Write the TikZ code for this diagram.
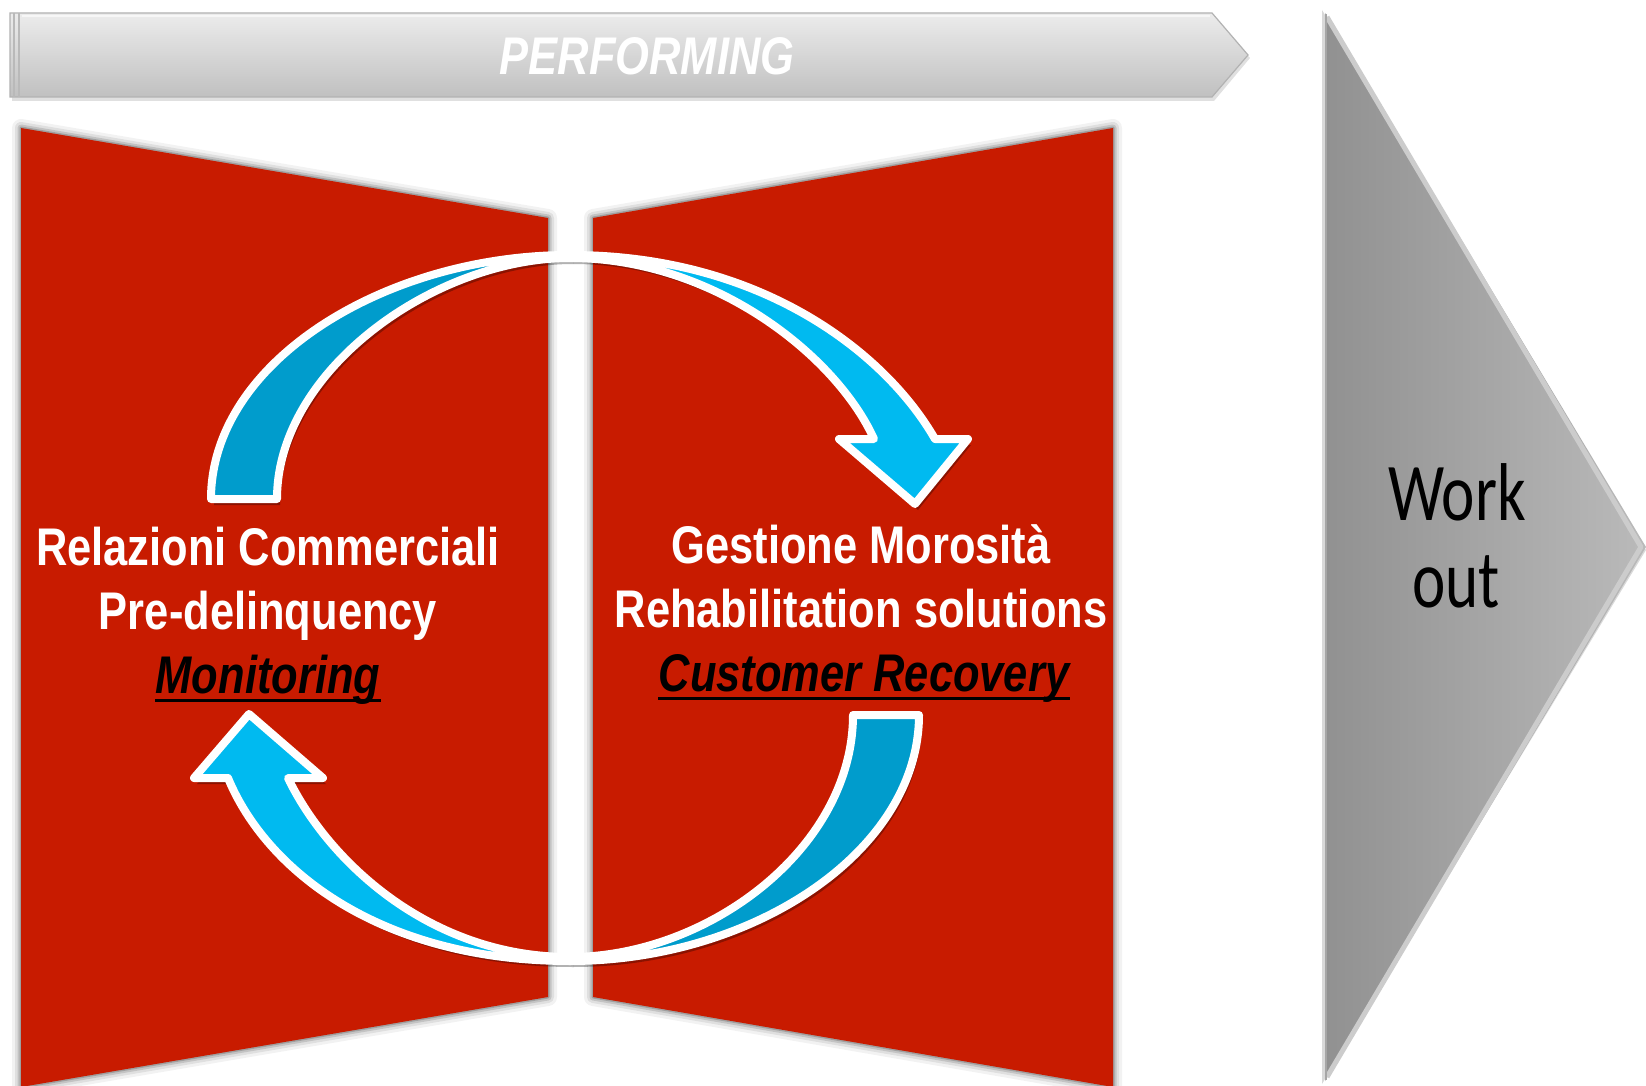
\documentclass[tikz,border=0pt]{standalone}
\usepackage{fontspec}
\newfontfamily\narrowfont[FakeStretch=0.82]{Liberation Sans}
\newfontfamily\workfont[FakeStretch=0.77]{Carlito}
\definecolor{panelred}{RGB}{200,27,0}
\definecolor{arrdark}{RGB}{0,156,204}
\definecolor{arrlight}{RGB}{0,186,240}
\definecolor{triL}{RGB}{145,145,145}
\definecolor{triR}{RGB}{186,186,186}
\definecolor{banTop}{RGB}{236,236,236}
\definecolor{banBot}{RGB}{192,192,192}
\tikzset{
  panel/.style={fill=panelred},
  arrbody/.style={draw=white, line width=4pt, line join=round},
  arrshadow/.style={fill=black, opacity=0.3},
  lbl/.style={font=\narrowfont\bfseries\fontsize{26.5}{30}\selectfont, text=white, anchor=base, inner sep=0pt},
  lblk/.style={lbl, font=\narrowfont\bfseries\itshape\fontsize{26.5}{30}\selectfont, text=black},
  wk/.style={font=\workfont\fontsize{41}{45}\selectfont, text=black, anchor=base, inner sep=0pt},
  uline/.style={line width=1.5pt, black}
}
\def\panelL{(21,128) -- (548,218) -- (548,997) -- (21,1087) -- cycle}
\def\panelR{(593,218) -- (1113,128) -- (1113,1087) -- (593,997) -- cycle}
\def\upL{(211,499) .. controls (211,362) and (385,255) .. (570,255) -- (570,258) .. controls (435,258) and (277,370) .. (277,499) -- cycle}
\def\upR{(570,255) .. controls (760,255) and (885,352) .. (935,439) -- (968,439) -- (915,504) -- (839,439) -- (874,439) .. controls (837,357) and (715,258) .. (570,258) -- cycle}
\def\loR{(919,715) .. controls (919,852) and (752,961) .. (570,961) -- (570,957) .. controls (708,957) and (853,848) .. (853,715) -- cycle}
\def\loL{(570,961) .. controls (380,961) and (266,870) .. (228,778) -- (194,778) -- (249,714) -- (323,778) -- (288,778) .. controls (327,859) and (428,957) .. (570,957) -- cycle}
\begin{document}
\begin{tikzpicture}[x=0.5pt,y=-0.5pt]
\useasboundingbox (0,0) rectangle (1646,1086);
\fill[white] (0,0) rectangle (1646,1086);

% banner
\fill[black,opacity=0.12] (12,16) -- (1214,16) -- (1250,58) -- (1214,101) -- (12,101) -- cycle;
\path[top color=banTop, bottom color=banBot, draw=gray!60, line width=0.6pt]
  (10,13) -- (1212,13) -- (1248,55) -- (1212,97) -- (10,97) -- cycle;
\draw[gray!55, line width=0.8pt] (14,13) -- (14,97) (19,13) -- (19,97);
\draw[white, opacity=0.6, line width=1pt] (22,16) -- (1210,16);
\node[font=\narrowfont\bfseries\itshape\fontsize{26.5}{30}\selectfont, text=white, anchor=base, inner sep=0pt] (perf) at (647,75) {PERFORMING};

% panels with soft shadow
\foreach \w/\o in {9/0.05, 6/0.08, 3.5/0.12, 1.5/0.18} {
  \draw[black, opacity=\o, line width=\w pt, line join=round] \panelL;
  \draw[black, opacity=\o, line width=\w pt, line join=round] \panelR;
}
\fill[panel] \panelL;
\fill[panel] \panelR;

% arrows shadows
\begin{scope}[shift={(3,6)}]
\fill[arrshadow] \upL; \fill[arrshadow] \upR;
\fill[arrshadow] \loL; \fill[arrshadow] \loR;
\end{scope}
% arrows
\filldraw[arrbody, fill=arrdark] \upL;
\filldraw[arrbody, fill=arrlight] \upR;
\filldraw[arrbody, fill=arrdark] \loR;
\filldraw[arrbody, fill=arrlight] \loL;

% texts left
\node[lbl] (l1) at (268,565) {Relazioni Commerciali};
\node[lbl] (l2) at (268,629) {Pre-delinquency};
\node[lblk] (l3) at (268,693) {Monitoring};
\draw[uline] ([yshift=-3.5pt]l3.base west) -- ([yshift=-3.5pt]l3.base east);
% texts right
\node[lbl] (r1) at (861,563) {Gestione Morosità};
\node[lbl] (r2) at (861,627) {Rehabilitation solutions};
\node[lblk] (r3) at (864,691) {Customer Recovery\hspace{0.25em}};
\draw[uline] ([yshift=-3.5pt]r3.base west) -- ([yshift=-3.5pt]r3.base east);

% work out triangle
\fill[black,opacity=0.15] (1322,10) -- (1322,1084) -- (1646,550) -- cycle;
\path[left color=triL, right color=triR] (1325,13) -- (1646,547) -- (1325,1081) -- cycle;
\draw[gray!40, line width=2.5pt, line join=round] (1327,17) -- (1641,547) -- (1327,1077);
\draw[gray!70, line width=1pt] (1326,14) -- (1326,1080);
\node[wk] (w1) at (1457,520) {Work};
\node[wk] (w2) at (1456,607) {out};
\end{tikzpicture}
\end{document}
